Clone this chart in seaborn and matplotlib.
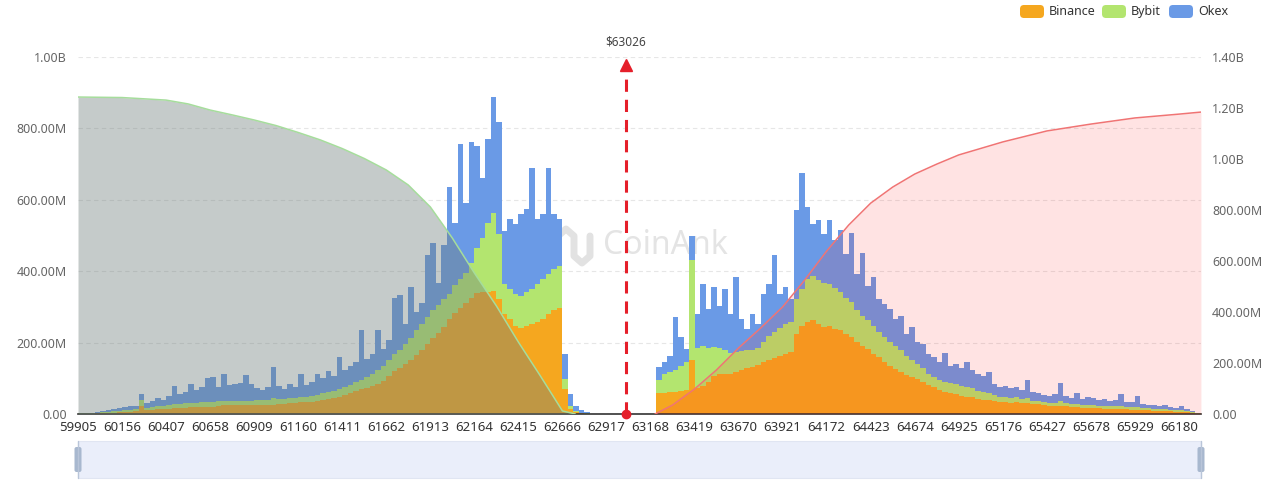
import numpy as np
import pandas as pd
import seaborn as sns
import matplotlib.pyplot as plt
from matplotlib.patches import FancyBboxPatch, Rectangle

# price grid: the axis is labelled every 251, each label step holds 8 bars
start_price = 59905
tick_step = 251
bins_per_tick = 8
current_price = 63026

tick_labels = ["59905", "60156", "60407", "60658", "60909", "61160", "61411",
               "61662", "61913", "62164", "62415", "62666", "62917", "63168",
               "63419", "63670", "63921", "64172", "64423", "64674", "64925",
               "65176", "65427", "65678", "65929", "66180"]

# liquidation volume per price bar, in millions (below / above current price)
binance_long = [1, 1, 1, 2, 3, 3, 4, 6, 6, 7,
                8, 22, 10, 11, 13, 14, 15, 17, 17, 18,
                20, 20, 21, 21, 21, 22, 24, 25, 25, 26,
                26, 26, 25, 25, 25, 25, 28, 28, 31, 31,
                34, 34, 34, 36, 39, 42, 45, 48, 53, 59,
                64, 70, 73, 78, 84, 92, 106, 120, 129, 140,
                151, 165, 178, 196, 212, 228, 244, 266, 284, 298,
                312, 326, 338, 341, 341, 344, 322, 280, 266, 246,
                241, 246, 252, 258, 266, 280, 291, 297, 70, 14,
                6, 3, 1]
binance_short = [59, 59, 62, 62, 64, 67, 150, 73, 78, 90,
                 106, 112, 112, 112, 118, 123, 129, 132, 137, 146,
                 151, 157, 162, 168, 174, 224, 246, 258, 263, 252,
                 244, 246, 238, 235, 224, 216, 202, 190, 182, 168,
                 160, 146, 134, 126, 118, 109, 104, 98, 90, 81,
                 76, 67, 62, 59, 56, 50, 48, 48, 42, 39,
                 39, 36, 34, 34, 31, 34, 31, 31, 28, 28,
                 25, 22, 22, 22, 22, 20, 20, 17, 17, 17,
                 17, 14, 14, 14, 14, 14, 11, 11, 11, 11,
                 8, 8, 8, 8, 6, 6, 6, 3, 1]

bybit_long = [1, 1, 1, 2, 3, 3, 4, 3, 6, 4,
              6, 17, 7, 8, 10, 8, 10, 11, 11, 13,
              11, 11, 13, 13, 13, 14, 13, 11, 11, 11,
              11, 11, 14, 14, 14, 20, 14, 14, 14, 14,
              14, 14, 17, 17, 20, 20, 20, 22, 22, 22,
              25, 25, 31, 34, 39, 42, 45, 48, 50, 56,
              62, 70, 73, 76, 78, 76, 78, 70, 78, 81,
              84, 98, 126, 151, 193, 218, 182, 84, 84, 90,
              90, 95, 98, 106, 112, 112, 115, 118, 28, 8,
              3, 1, 1]
bybit_short = [36, 53, 56, 62, 70, 78, 280, 112, 112, 95,
               81, 73, 67, 59, 56, 53, 50, 48, 48, 56,
               67, 73, 78, 84, 84, 98, 104, 120, 123, 123,
               123, 118, 115, 106, 101, 98, 90, 84, 81, 78,
               70, 70, 67, 64, 62, 53, 48, 42, 39, 31,
               28, 28, 28, 28, 28, 28, 28, 25, 22, 22,
               20, 17, 14, 14, 14, 14, 11, 14, 8, 8,
               8, 8, 8, 14, 8, 8, 8, 8, 8, 8,
               6, 8, 8, 8, 8, 6, 8, 8, 6, 6,
               6, 6, 6, 3, 6, 6, 3, 3, 1]

okex_long = [1, 1, 2, 2, 3, 6, 6, 8, 8, 11,
             8, 17, 14, 17, 22, 17, 25, 50, 28, 31,
             53, 36, 42, 67, 70, 39, 76, 45, 48, 50,
             73, 48, 34, 28, 36, 87, 36, 28, 39, 31,
             64, 34, 39, 59, 42, 59, 42, 90, 48, 53,
             56, 140, 50, 56, 112, 48, 56, 157, 154, 56,
             143, 50, 59, 174, 190, 64, 151, 300, 174, 378,
             196, 339, 286, 168, 235, 325, 314, 150, 196, 196,
             230, 232, 339, 182, 182, 297, 154, 132, 70, 34,
             14, 6, 4]
okex_short = [36, 34, 45, 148, 81, 36, 70, 95, 174, 109,
              168, 118, 171, 109, 210, 90, 59, 101, 67, 134,
              146, 216, 95, 104, 64, 249, 325, 202, 146, 168,
              137, 179, 134, 174, 123, 193, 101, 176, 95, 137,
              92, 92, 92, 76, 95, 62, 92, 62, 67, 56,
              56, 50, 81, 48, 56, 50, 70, 50, 48, 45,
              59, 31, 28, 31, 28, 28, 25, 50, 25, 22,
              20, 20, 25, 50, 20, 17, 31, 17, 22, 20,
              17, 20, 14, 17, 34, 14, 14, 31, 11, 8,
              11, 8, 11, 8, 6, 11, 6, 3, 2]

gap = [0] * 12  # no liquidations around the current price
binance = binance_long + gap + binance_short
bybit = bybit_long + gap + bybit_short
okex = okex_long + gap + okex_short

# cumulative liquidation curves (right axis, billions), read every half label step
long_cum_price = [59905, 60156, 60407, 60532.5, 60658, 60783.5, 60909, 61034.5,
                  61160, 61285.5, 61411, 61536.5, 61662, 61787.5, 61913, 62038.5,
                  62164, 62289.5, 62415, 62540.5, 62666, 62740]
long_cum_value = [1.243, 1.241, 1.231, 1.216, 1.192, 1.173, 1.153, 1.131,
                  1.104, 1.075, 1.041, 1.002, 0.957, 0.898, 0.812, 0.690,
                  0.553, 0.424, 0.282, 0.149, 0.012, 0.0]
short_cum_price = [63194, 63293.5, 63419, 63544.5, 63670, 63795.5, 63921, 64046.5,
                   64172, 64297.5, 64423, 64548.5, 64674, 64799.5, 64925, 65176,
                   65427, 65678, 65929, 66180, 66305]
short_cum_value = [0.0, 0.035, 0.098, 0.173, 0.259, 0.337, 0.420, 0.525,
                   0.639, 0.741, 0.827, 0.890, 0.941, 0.980, 1.016, 1.067,
                   1.110, 1.137, 1.161, 1.176, 1.184]

colors = {"Binance": "#f5a71f", "Bybit": "#b3e56f", "Okex": "#6a9ae6"}

sns.set_theme(style="white")
plt.rcParams["font.family"] = ["Noto Sans", "DejaVu Sans"]

W, H = 1280, 484
fig = plt.figure(figsize=(W / 100, H / 100), dpi=100, facecolor="white")


def px_box(x0, y0, x1, y1):
    return [x0 / W, 1 - y1 / H, (x1 - x0) / W, (y1 - y0) / H]


# overlay in pixel units for legend, watermark and zoom slider
over = fig.add_axes([0, 0, 1, 1], zorder=-1)
over.set_xlim(0, W)
over.set_ylim(H, 0)
over.axis("off")

ax = fig.add_axes(px_box(78, 57, 1201, 414))
ax.patch.set_alpha(0)

step = tick_step / bins_per_tick
n = len(binance)
lo = start_price
hi = start_price + step * n
centers = lo + step * (np.arange(n) + 0.5)
df = pd.DataFrame({
    "price": np.tile(centers, 3),
    "value": binance + bybit + okex,
    "exchange": ["Binance"] * n + ["Bybit"] * n + ["Okex"] * n,
})

sns.histplot(data=df, x="price", weights="value", hue="exchange",
             hue_order=["Okex", "Bybit", "Binance"], multiple="stack",
             binwidth=step, binrange=(lo, hi), palette=colors, alpha=1,
             linewidth=0, legend=False, ax=ax)

ax.set_xlim(lo, hi)
ax.set_ylim(0, 1000)
ax.set_xlabel("")
ax.set_ylabel("")
ax.set_yticks([0, 200, 400, 600, 800, 1000])
ax.set_yticklabels(["0.00", "200.00M", "400.00M", "600.00M", "800.00M", "1.00B"])
ax.set_xticks([start_price + tick_step * k for k in range(len(tick_labels))])
ax.set_xticklabels(tick_labels)
ax.tick_params(axis="y", length=0, pad=8, labelsize=9, labelcolor="#666666")
ax.tick_params(axis="x", length=0, pad=5, labelsize=9.5, labelcolor="#333333")
ax.yaxis.grid(True, color="#e6e6e6", linestyle=(0, (4, 3)), linewidth=0.8)
ax.xaxis.grid(False)
ax.set_axisbelow(True)
for side in ["top", "left", "right"]:
    ax.spines[side].set_visible(False)
ax.spines["bottom"].set_color("#333333")
ax.spines["bottom"].set_linewidth(1.2)

# current price marker
ax.plot([current_price, current_price], [0, 975], color="#e51f2a", lw=2.2,
        ls=(0, (4, 2.6)), zorder=6)
ax.plot(current_price, 978, marker="^", ms=8, color="#e51f2a", zorder=6, clip_on=False)
ax.plot(current_price, 0, marker="o", ms=6, color="#e51f2a", zorder=7, clip_on=False)
ax.text(current_price, 1042, f"${current_price}", ha="center", va="center",
        fontsize=8.5, color="#444444")

# cumulative curves on right axis
ax2 = ax.twinx()
ax2.set_ylim(0, 1.4)
ax2.fill_between(long_cum_price, long_cum_value, color="#707f7c", alpha=0.4, lw=0)
ax2.plot(long_cum_price, long_cum_value, color="#a6dd9c", lw=1.1)
ax2.fill_between(short_cum_price, short_cum_value, color="#ff2020", alpha=0.12, lw=0)
ax2.plot(short_cum_price, short_cum_value, color="#f07474", lw=1.1)
ax2.set_yticks([0, 0.2, 0.4, 0.6, 0.8, 1.0, 1.2, 1.4])
ax2.set_yticklabels(["0.00", "200.00M", "400.00M", "600.00M", "800.00M",
                     "1.00B", "1.20B", "1.40B"])
ax2.tick_params(axis="y", length=0, pad=8, labelsize=9, labelcolor="#666666")
ax2.grid(False)
for side in ax2.spines:
    ax2.spines[side].set_visible(False)

# watermark
over.plot([558, 558, 566, 574, 574, 582, 590, 590], [262, 236, 229, 236, 256, 263, 256, 236],
          color="#e2e2e2", lw=5, solid_capstyle="round", solid_joinstyle="round")
over.text(603, 246, "CoinAnk", fontsize=23, fontweight="bold", color="#e4e4e4",
          ha="left", va="center")

# legend
for label, x0 in [("Binance", 1020), ("Bybit", 1102), ("Okex", 1169)]:
    over.add_patch(FancyBboxPatch((x0, 5), 24, 13, boxstyle="round,pad=0,rounding_size=4",
                                  facecolor=colors[label], edgecolor="none"))
    over.text(x0 + 29, 11.5, label, fontsize=9, color="#333333", ha="left", va="center")

# zoom slider
over.add_patch(Rectangle((78, 441), 1123, 37, facecolor="#eaeefa", edgecolor="#e0e5f2", lw=0.8))
for xh in [78, 1201]:
    over.plot([xh, xh], [441, 478], color="#b9c5d9", lw=1)
    over.add_patch(FancyBboxPatch((xh - 3.5, 447), 7, 25, boxstyle="round,pad=0,rounding_size=2",
                                  facecolor="#a8b8cf", edgecolor="none"))

fig.savefig("out.png", dpi=100)
